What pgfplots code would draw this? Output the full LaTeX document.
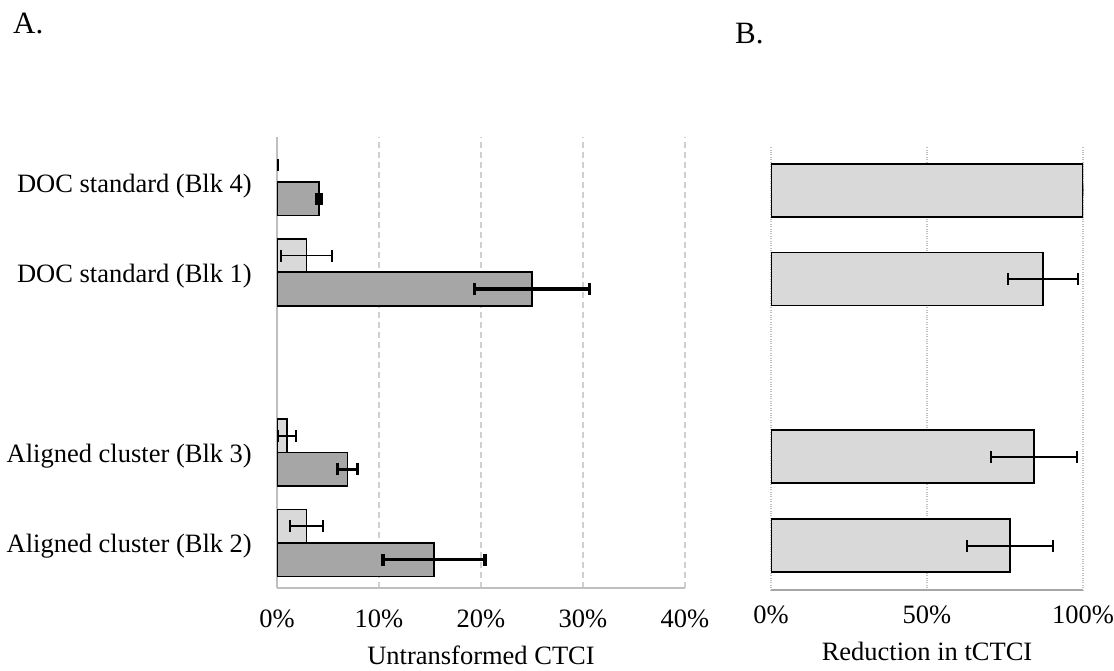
\documentclass[border=0pt]{standalone}
\usepackage{pgfplots}
\pgfplotsset{compat=1.18}
\usepackage{pgfplotstable}
\usepackage{fontspec}
\setmainfont{Liberation Serif}
\definecolor{lightbar}{HTML}{D9D9D9}
\definecolor{darkbar}{HTML}{A6A6A6}
\definecolor{gridA}{HTML}{D0D0D0}
\definecolor{gridB}{HTML}{BFBFBF}
\definecolor{axisgray}{HTML}{A6A6A6}

\pgfplotstableread{
pos val err
0 2.9 1.6
1 1.0 0.85
3 2.9 2.5
}\Alight
\pgfplotstableread{
pos val err
4 0.0 0.08
}\Alightzero
\pgfplotstableread{
pos val err
0 15.4 5.0
1 6.9 1.0
3 25.0 5.65
4 4.1 0.25
}\Adark
\pgfplotstableread{
pos val err
0 76.6 13.7
1 84.3 13.7
3 87.2 11.2
4 100.0 0.15
}\Bred

\newcommand{\bigfont}{\fontsize{26.5bp}{31bp}\selectfont}
\newcommand{\titlefont}{\fontsize{31bp}{36bp}\selectfont}

\begin{document}
\begin{tikzpicture}
\useasboundingbox (0,0) rectangle (1114bp,671bp);
\node[anchor=base west, inner sep=0pt, font=\titlefont] at (13bp,637bp) {A.};
\node[anchor=base west, inner sep=0pt, font=\titlefont] at (735bp,627bp) {B.};

\begin{axis}[
  at={(277bp,83bp)}, anchor=south west,
  scale only axis, width=408bp, height=451bp,
  xmin=0, xmax=40, ymin=-0.5, ymax=4.5,
  xbar, bar width=33.5bp,
  axis x line*=bottom, axis y line*=left,
  axis line style={-, draw=gridB, line width=1.5bp},
  xtick={0,10,20,30,40},
  xticklabels={0\%,10\%,20\%,30\%,40\%},
  ytick={0,1,3,4},
  yticklabels={Aligned cluster (Blk 2),Aligned cluster (Blk 3),DOC standard (Blk 1),DOC standard (Blk 4)},
  major tick length=0pt,
  xmajorgrids, ymajorgrids=false,
  major grid style={dashed, dash pattern=on 6bp off 4bp, draw=gridA, line width=1.3bp},
  tick label style={font=\bigfont},
  xticklabel style={anchor=base, inner sep=0pt, yshift=-39bp},
  yticklabel style={anchor=base east, inner sep=0pt, xshift=-25bp, yshift=-10bp},
  xlabel={Untransformed CTCI},
  xlabel style={font=\bigfont, at={(axis description cs:0.5,0)}, anchor=base, inner sep=0pt, yshift=-76bp},
]
\addplot[fill=lightbar, draw=black, line width=1.6bp, bar shift=16.75bp,
  error bars/.cd, x dir=both, x explicit, error mark=|,
  error bar style={line width=1.8bp, black},
  error mark options={line width=1.8bp, mark size=6bp, black}]
  table[x=val, y=pos, x error=err] {\Alight};
\addplot[fill=none, draw=none, bar shift=16.75bp,
  error bars/.cd, x dir=both, x explicit, error mark=|,
  error bar style={line width=1.8bp, black},
  error mark options={line width=1.8bp, mark size=6bp, black}]
  table[x=val, y=pos, x error=err] {\Alightzero};
\addplot[fill=darkbar, draw=black, line width=1.6bp, bar shift=-16.75bp,
  error bars/.cd, x dir=both, x explicit, error mark=|,
  error bar style={line width=3.2bp, black},
  error mark options={line width=3.2bp, mark size=6bp, black}]
  table[x=val, y=pos, x error=err] {\Adark};
\end{axis}

\begin{axis}[
  at={(771bp,81bp)}, anchor=south west,
  scale only axis, width=312bp, height=444bp,
  xmin=0, xmax=100, ymin=-0.5, ymax=4.5,
  xbar, bar width=53bp,
  axis x line*=bottom, axis y line=none,
  axis line style={-, draw=axisgray, line width=1.8bp},
  xtick={0,50,100},
  xticklabels={0\%,50\%,100\%},
  ytick=\empty,
  major tick length=0pt,
  xmajorgrids,
  major grid style={dotted, draw=gridB, line width=1.5bp},
  tick label style={font=\bigfont},
  xticklabel style={anchor=base, inner sep=0pt, yshift=-33bp},
  xlabel={Reduction in tCTCI},
  xlabel style={font=\bigfont, at={(axis description cs:0.5,0)}, anchor=base, inner sep=0pt, yshift=-70bp},
]
\addplot[fill=lightbar, draw=black, line width=1.6bp, bar shift=0bp,
  error bars/.cd, x dir=both, x explicit, error mark=|,
  error bar style={line width=2bp, black},
  error mark options={line width=2bp, mark size=6bp, black}]
  table[x=val, y=pos, x error=err] {\Bred};
\end{axis}
\end{tikzpicture}
\end{document}
